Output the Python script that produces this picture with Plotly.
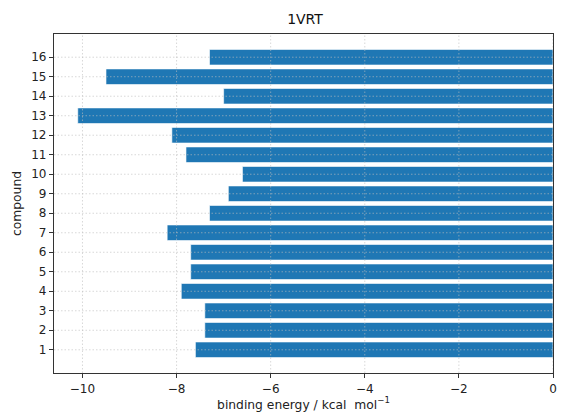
import plotly.graph_objects as go

# Binding energies (kcal/mol) against the 1VRT target for compounds 1-16
compounds = list(range(1, 17))
binding_energy = [-7.6, -7.4, -7.4, -7.9, -7.7, -7.7, -8.2, -7.3,
                  -6.9, -6.6, -7.8, -8.1, -10.1, -7.0, -9.5, -7.3]

x_ticks = [-10, -8, -6, -4, -2, 0]
x_range = [-10.605, 0]
y_range = [-0.19, 17.19]

fig = go.Figure(
    go.Bar(
        x=binding_energy,
        y=compounds,
        orientation="h",
        width=0.8,
        marker=dict(color="#1f77b4", line=dict(color="rgba(255,255,255,0.6)", width=1)),
        hoverinfo="x+y",
    )
)

# dotted grid drawn over the bars
grid_style = dict(color="rgba(190,190,190,0.6)", width=1, dash="1.5px,2px")
shapes = []
for xv in x_ticks:
    shapes.append(dict(type="line", xref="x", yref="paper", x0=xv, x1=xv, y0=0, y1=1,
                       line=grid_style, layer="above"))
for yv in compounds:
    shapes.append(dict(type="line", xref="paper", yref="y", x0=0, x1=1, y0=yv, y1=yv,
                       line=grid_style, layer="above"))

font = "DejaVu Sans, sans-serif"
fig.update_layout(
    width=563,
    height=414,
    margin=dict(l=54, r=6, t=34, b=41),
    paper_bgcolor="white",
    plot_bgcolor="white",
    showlegend=False,
    shapes=shapes,
    font=dict(family=font, size=12, color="#222"),
    title=dict(text="1VRT", x=305 / 563, xanchor="center", xref="container",
               y=1 - 19 / 414, yref="container", yanchor="middle",
               font=dict(family=font, size=14, color="#111")),
    xaxis=dict(
        range=x_range,
        tickvals=x_ticks,
        ticktext=["\u221210", "\u22128", "\u22126", "\u22124", "\u22122", "0"],
        ticklabeloverflow="allow",
        showgrid=False, zeroline=False,
        showline=True, linecolor="#333", linewidth=1.2, mirror=True,
        ticks="outside", ticklen=4, tickcolor="#333",
        title=dict(text="binding energy / kcal  mol<sup>\u22121</sup>", standoff=4,
                   font=dict(size=12.3)),
    ),
    yaxis=dict(
        range=y_range,
        tickvals=compounds,
        ticktext=[str(c) for c in compounds],
        showgrid=False, zeroline=False,
        showline=True, linecolor="#333", linewidth=1.2, mirror=True,
        ticks="outside", ticklen=4, tickcolor="#333",
        title=dict(text="compound", standoff=6, font=dict(size=12.3)),
    ),
)

fig.write_html("out.html")
